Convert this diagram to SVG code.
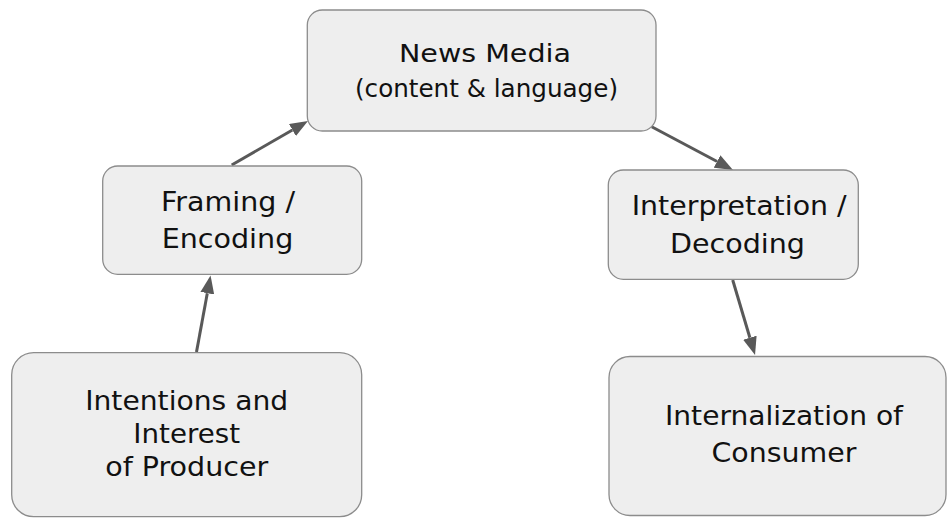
<svg xmlns="http://www.w3.org/2000/svg" width="947" height="519" viewBox="0 0 947 519">
<defs>
<style>
.box{fill:#eeeeee;stroke:#8c8c8c;stroke-width:1.3}
.t{font-family:"DejaVu Sans","Liberation Sans",sans-serif;fill:#111111;text-anchor:middle;font-size:27px}
.s{font-size:25px}
.edge{stroke:#595959;stroke-width:3;fill:none;marker-end:url(#ah)}
</style>
<marker id="ah" viewBox="0 0 18 14" markerWidth="18" markerHeight="14" refX="0" refY="7" orient="auto" markerUnits="userSpaceOnUse">
<path d="M0,0 L18,7 L0,14 z" fill="#595959"/>
</marker>
</defs>
<rect width="947" height="519" fill="#ffffff"/>
<g id="connectors">
<line class="edge" x1="231.7" y1="165" x2="292.4" y2="130"/>
<line class="edge" x1="651.7" y1="126.7" x2="717.1" y2="161.5"/>
<line class="edge" x1="196.5" y1="352" x2="207.3" y2="293.2"/>
<line class="edge" x1="732.7" y1="280" x2="749.9" y2="337.7"/>
</g>
<g id="news-media">
<rect class="box" x="307.3" y="10" width="348.7" height="121" rx="15"/>
<text class="t s" x="485" y="62" textLength="172" lengthAdjust="spacingAndGlyphs">News Media</text>
<text class="t s" x="486.5" y="96.5" textLength="263" lengthAdjust="spacingAndGlyphs">(content &amp; language)</text>
</g>
<g id="framing">
<rect class="box" x="102.7" y="166" width="259" height="108.3" rx="15"/>
<text class="t" x="228" y="210.7" textLength="134" lengthAdjust="spacingAndGlyphs">Framing /</text>
<text class="t" x="227.5" y="248.3" textLength="131.6" lengthAdjust="spacingAndGlyphs">Encoding</text>
</g>
<g id="intentions">
<rect class="box" x="11.7" y="352.7" width="350" height="164" rx="22"/>
<text class="t" x="186.7" y="410" textLength="203" lengthAdjust="spacingAndGlyphs">Intentions and</text>
<text class="t" x="186.7" y="443.3" textLength="106.7" lengthAdjust="spacingAndGlyphs">Interest</text>
<text class="t" x="186.7" y="476" textLength="163" lengthAdjust="spacingAndGlyphs">of Producer</text>
</g>
<g id="interpretation">
<rect class="box" x="608.3" y="170" width="250" height="109.3" rx="15"/>
<text class="t" x="739.2" y="215" textLength="215" lengthAdjust="spacingAndGlyphs">Interpretation /</text>
<text class="t" x="737.5" y="252.7" textLength="135" lengthAdjust="spacingAndGlyphs">Decoding</text>
</g>
<g id="internalization">
<rect class="box" x="609" y="356.5" width="337" height="159" rx="21"/>
<text class="t" x="784" y="425" textLength="238" lengthAdjust="spacingAndGlyphs">Internalization of</text>
<text class="t" x="784" y="461.7" textLength="145" lengthAdjust="spacingAndGlyphs">Consumer</text>
</g>
</svg>
